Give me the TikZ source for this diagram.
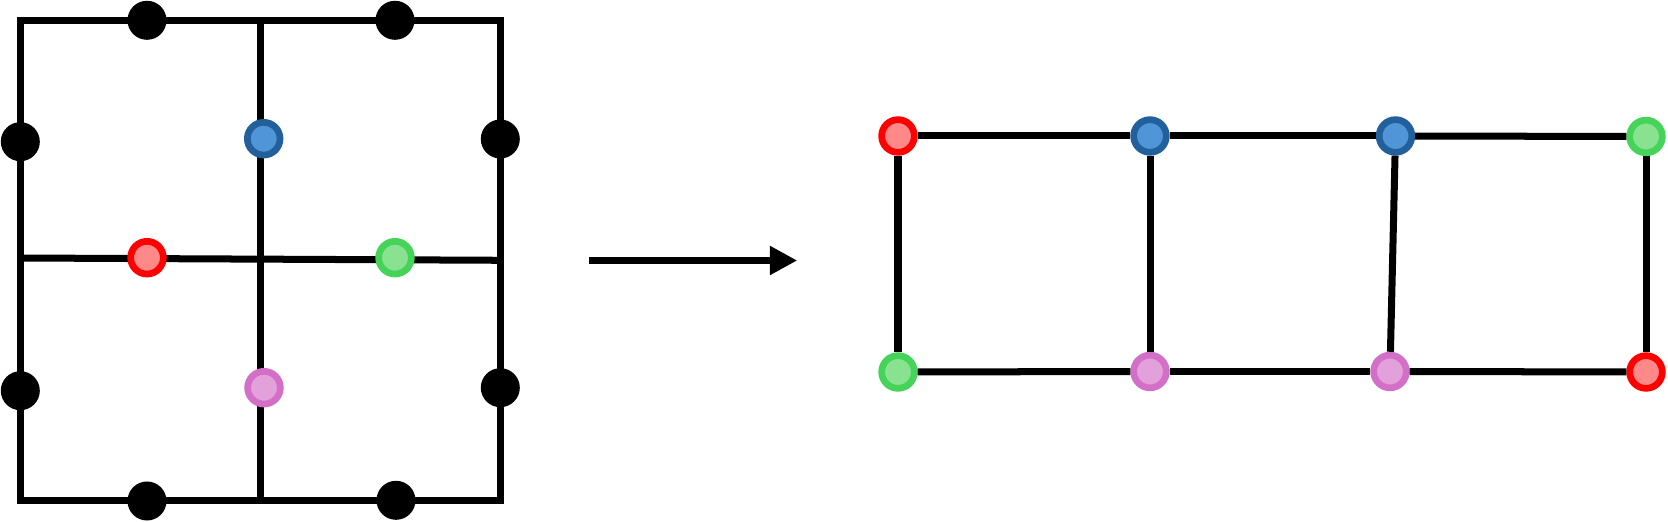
\documentclass[tikz,border=0pt]{standalone}
\usepackage{tikz}
\usetikzlibrary{arrows.meta,positioning}

\definecolor{redring}{HTML}{FF0000}
\definecolor{redfill}{HTML}{FF8888}
\definecolor{bluering}{HTML}{22609C}
\definecolor{bluefill}{HTML}{4F95D8}
\definecolor{greenring}{HTML}{46D35A}
\definecolor{greenfill}{HTML}{88E290}
\definecolor{pinkring}{HTML}{D46FC8}
\definecolor{pinkfill}{HTML}{E3A1DC}

\begin{document}
\begin{tikzpicture}[x=0.01cm,y=-0.01cm,line width=0.07cm,
  dot/.style={circle, fill=black, inner sep=0pt, minimum size=0.39cm},
  vert/.style={circle, line width=0.067cm, inner sep=0pt, minimum size=0.327cm},
  vred/.style={vert, draw=redring, fill=redfill},
  vblue/.style={vert, draw=bluering, fill=bluefill},
  vgreen/.style={vert, draw=greenring, fill=greenfill},
  vpink/.style={vert, draw=pinkring, fill=pinkfill}]
\useasboundingbox (0,0) rectangle (1668,522);

% left grid
\coordinate (c0) at (20.5,20.5);
\coordinate (c1) at (500.3,500.3);
\coordinate (m0) at (260.5,20.5);
\coordinate (m1) at (260.5,500.3);
\coordinate (h0) at (20.5,258);
\coordinate (h1) at (500.3,260.3);
\draw (c0) rectangle (c1);
\draw (m0) -- (m1);
\draw (h0) -- (h1);

\node[dot] (d1) at (147,20.3) {};
\node[dot] (d2) at (395,20.3) {};
\node[dot] (d3) at (20.3,141.7) {};
\node[dot] (d4) at (20.3,390.7) {};
\node[dot] (d5) at (500.3,139) {};
\node[dot] (d6) at (500.3,387.7) {};
\node[dot] (d7) at (147,501) {};
\node[dot] (d8) at (396,500.3) {};

\node[vblue] (s0) at (263.7,138.7) {};
\node[vred] (s1) at (147,257.7) {};
\node[vgreen] (s2) at (395,257.7) {};
\node[vpink] (s3) at (264,387.7) {};

% arrow
\coordinate (p0) at (589,260.5);
\coordinate (p1) at (797.3,260.5);
\draw[-{Triangle[length=0.273cm,width=0.273cm]}] (p0) -- (p1);

% right graph
\node[vred] (q0) at (898,136) {};
\node[vblue] (q1) at (1150,136) {};
\node[vblue] (q2) at (1395.5,136) {};
\node[vgreen] (q3) at (1646,136.5) {};
\node[vgreen] (q4) at (898,372) {};
\node[vpink] (q5) at (1150,371.5) {};
\node[vpink] (q6) at (1390,371.5) {};
\node[vred] (q7) at (1646,372) {};

\path[draw] (q0) edge (q1)
	(q1) edge (q2)
	(q2) edge (q3)
	(q4) edge (q5)
	(q5) edge (q6)
	(q6) edge (q7)
	(q0) edge (q4)
	(q1) edge (q5)
	(q2) edge (q6)
	(q3) edge (q7);
\end{tikzpicture}
\end{document}
